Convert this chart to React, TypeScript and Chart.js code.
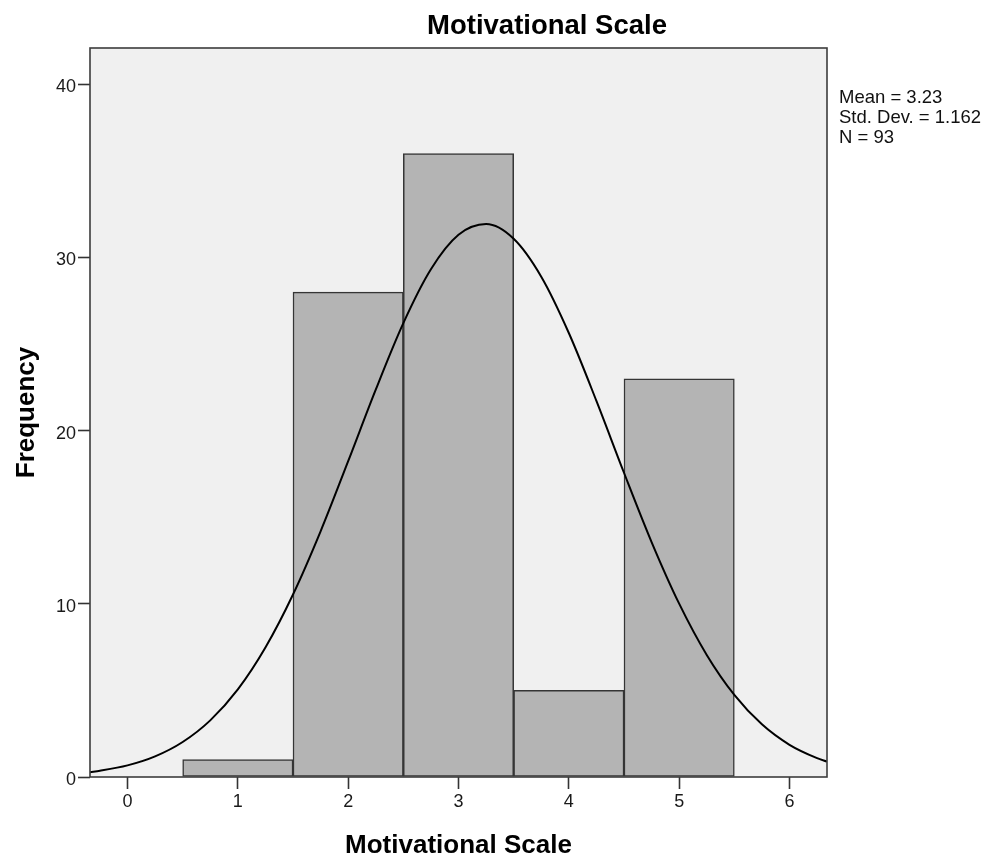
import React, { useEffect, useRef } from "react";
import { Chart, registerables } from "chart.js";

Chart.register(...registerables);

// ---- Data ----
const chartTitle = "Motivational Scale";
const xAxisTitle = "Motivational Scale";
const yAxisTitle = "Frequency";

const binCenters = [1, 2, 3, 4, 5];
const binCounts = [1, 28, 36, 5, 23];

// fitted normal curve
const curveX = [
  -0.34, -0.25, 0, 0.25, 0.5, 0.75, 1, 1.25, 1.5, 1.75, 2, 2.25, 2.5, 2.75, 3,
  3.25, 3.5, 3.75, 4, 4.25, 4.5, 4.75, 5, 5.25, 5.5, 5.75, 6, 6.25, 6.34,
];
const curveY = [
  0.28, 0.36, 0.67, 1.19, 2.02, 3.27, 5.06, 7.48, 10.54, 14.19, 18.24, 22.37,
  26.21, 29.32, 31.31, 31.93, 31.08, 28.89, 25.64, 21.72, 17.57, 13.57, 10.01,
  7.05, 4.74, 3.04, 1.86, 1.09, 0.89,
];

const xTickValues = [0, 1, 2, 3, 4, 5, 6];
const yTickValues = [0, 10, 20, 30, 40];

const statsLines = ["Mean = 3.23", "Std. Dev. = 1.162", "N = 93"];

const FONT = "'Liberation Sans', Arial, Helvetica, sans-serif";

export default function App() {
  const canvasRef = useRef<HTMLCanvasElement | null>(null);

  useEffect(() => {
    const canvas = canvasRef.current;
    if (!canvas) return;

    const decorPlugin = {
      id: "spssDecor",
      beforeDraw(chart: any) {
        const { ctx, chartArea } = chart;
        ctx.save();
        ctx.fillStyle = "#ffffff";
        ctx.fillRect(0, 0, chart.width, chart.height);
        ctx.fillStyle = "#f0f0f0";
        ctx.fillRect(
          chartArea.left,
          chartArea.top,
          chartArea.right - chartArea.left,
          chartArea.bottom - chartArea.top
        );
        ctx.restore();
      },
      afterDatasetsDraw(chart: any) {
        const { ctx, chartArea } = chart;
        ctx.save();
        ctx.strokeStyle = "#3c3c3c";
        ctx.lineWidth = 1.6;
        ctx.strokeRect(
          chartArea.left,
          chartArea.top,
          chartArea.right - chartArea.left,
          chartArea.bottom - chartArea.top
        );
        ctx.restore();
      },
      afterDraw(chart: any) {
        const { ctx, chartArea } = chart;
        ctx.save();
        ctx.fillStyle = "#000000";
        // main title
        ctx.font = `bold 27.5px ${FONT}`;
        ctx.textAlign = "center";
        ctx.textBaseline = "alphabetic";
        ctx.fillText(chartTitle, 547, 34);
        // x axis title
        ctx.font = `bold 26px ${FONT}`;
        ctx.fillText(xAxisTitle, (chartArea.left + chartArea.right) / 2, 853);
        // y axis title
        ctx.save();
        ctx.translate(34, (chartArea.top + chartArea.bottom) / 2);
        ctx.rotate(-Math.PI / 2);
        ctx.fillText(yAxisTitle, 0, 0);
        ctx.restore();
        // stats
        ctx.font = `18.5px ${FONT}`;
        ctx.textAlign = "left";
        ctx.fillStyle = "#111111";
        statsLines.forEach((s, i) => {
          ctx.fillText(s, chartArea.right + 12, 103 + i * 20);
        });
        ctx.restore();
      },
    };

    const chart = new Chart(canvas, {
      data: {
        datasets: [
          {
            type: "line",
            label: "Normal",
            data: curveX.map((x, i) => ({ x, y: curveY[i] })),
            borderColor: "#000000",
            borderWidth: 2,
            pointRadius: 0,
            fill: false,
            cubicInterpolationMode: "monotone",
            order: 0,
          } as any,
          {
            type: "bar",
            label: "Frequency",
            data: binCenters.map((x, i) => ({ x, y: binCounts[i] })),
            backgroundColor: "#b4b4b4",
            borderColor: "#353535",
            borderWidth: 1.5,
            borderSkipped: false,
            barPercentage: 1,
            categoryPercentage: 1,
            order: 1,
          } as any,
        ],
      },
      options: {
        responsive: false,
        animation: false,
        devicePixelRatio: 1,
        layout: { padding: { left: 0, top: 48, right: 167, bottom: 0 } },
        plugins: {
          legend: { display: false },
          title: { display: false },
          tooltip: { enabled: false },
        },
        scales: {
          x: {
            type: "linear",
            position: "bottom",
            min: -0.34,
            max: 6.34,
            offset: false,
            afterFit(scale: any) {
              scale.height = 82;
            },
            afterBuildTicks(scale: any) {
              scale.ticks = xTickValues.map((v) => ({ value: v }));
            },
            grid: {
              display: true,
              offset: false,
              drawOnChartArea: false,
              drawTicks: true,
              tickLength: 12,
              tickColor: "#333333",
              tickWidth: 1.6,
            },
            border: { display: false },
            ticks: {
              padding: 2,
              color: "#1a1a1a",
              font: { family: FONT, size: 18 },
              maxRotation: 0,
              autoSkip: false,
              callback: (v: any) => String(v),
            },
          },
          y: {
            type: "linear",
            min: 0,
            max: 42.1,
            afterFit(scale: any) {
              scale.width = 90;
            },
            afterBuildTicks(scale: any) {
              scale.ticks = yTickValues.map((v) => ({ value: v }));
            },
            grid: {
              display: true,
              drawOnChartArea: false,
              drawTicks: true,
              tickLength: 12,
              tickColor: "#333333",
              tickWidth: 1.6,
            },
            border: { display: false },
            ticks: {
              padding: 2,
              labelOffset: 3,
              color: "#1a1a1a",
              font: { family: FONT, size: 18 },
              autoSkip: false,
              callback: (v: any) => String(v),
            },
          },
        },
      } as any,
      plugins: [decorPlugin],
    });

    return () => {
      chart.destroy();
    };
  }, []);

  return (
    <div style={{ position: "absolute", left: 0, top: 0, width: 994, height: 859 }}>
      <canvas ref={canvasRef} width={994} height={859} style={{ display: "block" }} />
    </div>
  );
}
